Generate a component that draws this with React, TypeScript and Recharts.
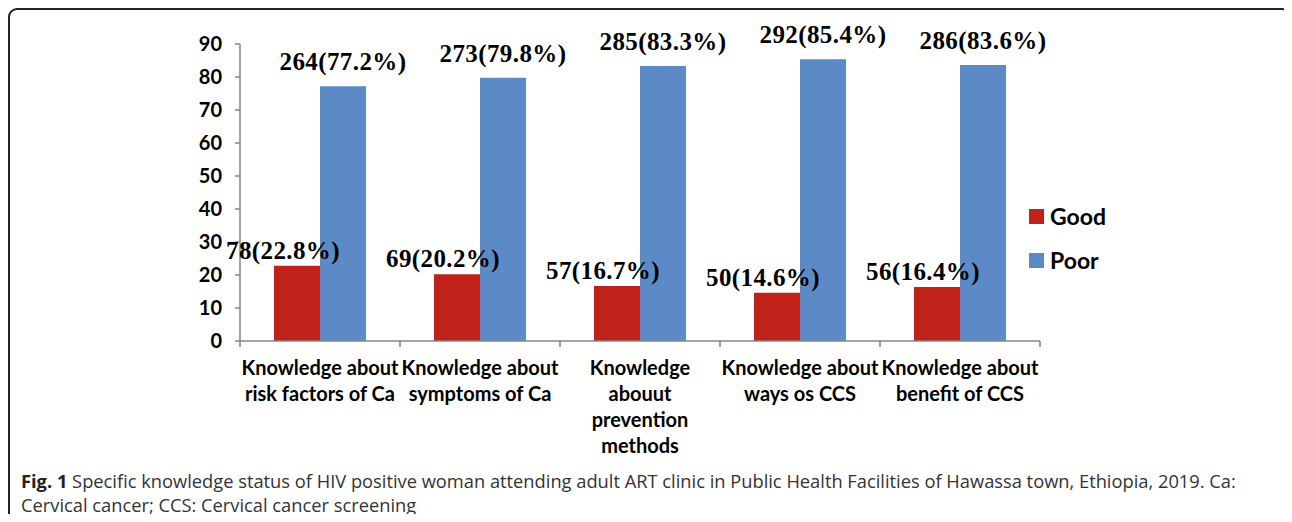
import React from 'react'
import { BarChart, Bar, XAxis, YAxis, Legend, LabelList } from 'recharts'

const categories = [
  'Knowledge about\nrisk factors of Ca',
  'Knowledge about\nsymptoms of Ca',
  'Knowledge\nabouut\nprevention\nmethods',
  'Knowledge about\nways os CCS',
  'Knowledge about\nbenefit of CCS',
]
const goodCount = [78, 69, 57, 50, 56]
const goodPct = [22.8, 20.2, 16.7, 14.6, 16.4]
const poorCount = [264, 273, 285, 292, 286]
const poorPct = [77.2, 79.8, 83.3, 85.4, 83.6]
const yTicks = [0, 10, 20, 30, 40, 50, 60, 70, 80, 90]

const data = categories.map((cat, i) => ({
  cat,
  good: goodPct[i],
  poor: poorPct[i],
  goodLabel: `${goodCount[i]}(${goodPct[i]}%)`,
  poorLabel: `${poorCount[i]}(${poorPct[i]}%)`,
}))

const RED = '#C0221B'
const BLUE = '#5B8AC6'
const AXIS = '#868686'
const W = 1282
const H = 470
const M = { top: 36, right: 250, left: 172, bottom: 17 }
const Y_W = 60
const BAND = (W - M.left - M.right - Y_W) / categories.length

const serif = '"Liberation Serif", "Times New Roman", serif'
const sans = 'Lato, "Open Sans", sans-serif'

function CatTick(props: any) {
  const { x, y, payload, index } = props
  const lines = String(payload.value).split('\n')
  return (
    <g>
      <line x1={x - BAND / 2} x2={x - BAND / 2} y1={y} y2={y + 6} stroke={AXIS} strokeWidth={1.5} />
      {index === categories.length - 1 && (
        <line x1={x + BAND / 2} x2={x + BAND / 2} y1={y} y2={y + 6} stroke={AXIS} strokeWidth={1.5} />
      )}
      <text x={x} y={y + 34} textAnchor="middle" fontFamily={sans} fontWeight={700} fontSize={20} fill="#000">
        {lines.map((l, i) => (
          <tspan key={i} x={x} dy={i === 0 ? 0 : 26}>{l}</tspan>
        ))}
      </text>
    </g>
  )
}

const mkLabel = (dx: number, off: number) => (p: any) => {
  const { x, y, width, value } = p
  return (
    <text
      x={x + width / 2 + dx}
      y={y - off}
      textAnchor="middle"
      fontFamily={serif}
      fontWeight={700}
      fontSize={25}
      letterSpacing={0.4}
      fill="#000"
    >
      {value}
    </text>
  )
}

function LegendBox() {
  const items = [
    { name: 'Good', color: RED },
    { name: 'Poor', color: BLUE },
  ]
  return (
    <div>
      {items.map((it) => (
        <div key={it.name} style={{ display: 'flex', alignItems: 'center', height: 44 }}>
          <span style={{ width: 15, height: 15, background: it.color, display: 'inline-block', marginRight: 6 }} />
          <span style={{ fontFamily: sans, fontWeight: 700, fontSize: 23, color: '#000' }}>{it.name}</span>
        </div>
      ))}
    </div>
  )
}

export default function App() {
  return (
    <div style={{ position: 'relative', width: W, height: 506 }}>
      <style>{'html,body{overflow:hidden}'}</style>
      <div
        style={{
          position: 'absolute',
          left: 0,
          top: 0,
          width: 1279,
          height: 514,
          border: '2px solid #222',
          borderBottom: 'none',
          borderRadius: '9px 9px 0 0',
        }}
      />
      <div style={{ position: 'absolute', left: 0, top: 0 }}>
        <BarChart width={W} height={H} data={data} margin={M} barCategoryGap="21.25%" barGap={0}>
          <XAxis
            dataKey="cat"
            interval={0}
            height={120}
            tickLine={false}
            tickSize={0}
            tickMargin={0}
            axisLine={{ stroke: AXIS, strokeWidth: 1.5 }}
            tick={<CatTick />}
          />
          <YAxis
            width={Y_W}
            domain={[0, 90]}
            ticks={yTicks}
            tickSize={5}
            tickMargin={13}
            axisLine={{ stroke: AXIS, strokeWidth: 1.5 }}
            tickLine={{ stroke: AXIS, strokeWidth: 1.5 }}
            tick={{ fontFamily: sans, fontWeight: 700, fontSize: 20, fill: '#000' }}
          />
          <Legend
            layout="horizontal"
            align="center"
            verticalAlign="middle"
            content={<LegendBox />}
            wrapperStyle={{ left: 1021, top: 186, width: 150, height: 88 }}
          />
          <Bar dataKey="good" name="Good" fill={RED} isAnimationActive={false}>
            <LabelList dataKey="goodLabel" content={mkLabel(-14, 7)} />
          </Bar>
          <Bar dataKey="poor" name="Poor" fill={BLUE} isAnimationActive={false}>
            <LabelList dataKey="poorLabel" content={mkLabel(0, 16)} />
          </Bar>
        </BarChart>
      </div>
      <div
        style={{
          position: 'absolute',
          left: 13,
          top: 461,
          fontFamily: '"Open Sans", sans-serif',
          fontSize: 18.3,
          lineHeight: '24px',
          color: '#333',
          whiteSpace: 'nowrap',
        }}
      >
        <b style={{ color: '#222' }}>Fig. 1</b> Specific knowledge status of HIV positive woman attending adult ART clinic in Public Health Facilities of Hawassa town, Ethiopia, 2019. Ca:
        <br />
        Cervical cancer; CCS: Cervical cancer screening
      </div>
    </div>
  )
}
